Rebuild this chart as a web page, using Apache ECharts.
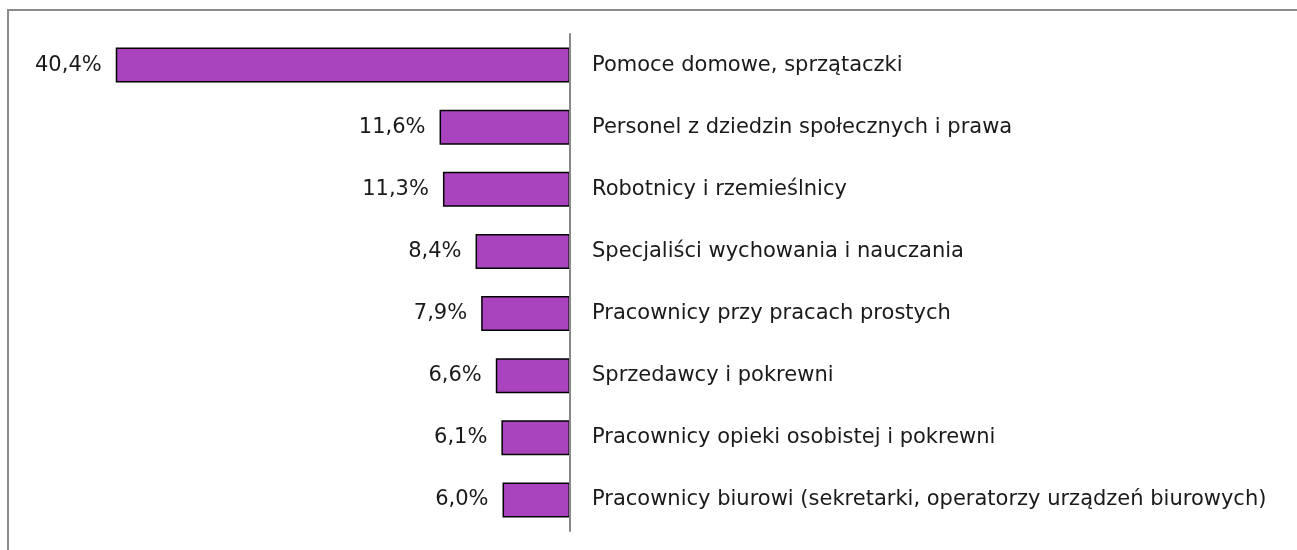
<!DOCTYPE html>
<html>
<head>
<meta charset="utf-8">
<script src="https://cdn.jsdelivr.net/npm/echarts@6/dist/echarts.min.js"></script>
<style>
    html, body { margin: 0; padding: 0; background: #fff; }
    #main { width: 1297px; height: 550px; }
</style>
</head>
<body>
<div id="main"></div>
<script>
let categories = [
    'Pomoce domowe, sprzątaczki',
    'Personel z dziedzin społecznych i prawa',
    'Robotnicy i rzemieślnicy',
    'Specjaliści wychowania i nauczania',
    'Pracownicy przy pracach prostych',
    'Sprzedawcy i pokrewni',
    'Pracownicy opieki osobistej i pokrewni',
    'Pracownicy biurowi (sekretarki, operatorzy urządzeń biurowych)'
];
let values = [40.4, 11.6, 11.3, 8.4, 7.9, 6.6, 6.1, 6.0];

let chart = echarts.init(document.querySelector('#main'));
let font = 'DejaVu Sans';

let option = {
    animation: false,
    // ramka
    graphic: [{
        type: 'polyline',
        shape: { points: [[8, 550], [8, 10], [1297, 10]] },
        style: { stroke: '#8c8c8c', lineWidth: 2, fill: null }
    }],
    grid: {
        left: 64,
        right: 727,
        top: 34,
        bottom: 19
    },
    xAxis: {
        type: 'value',
        inverse: true,
        min: 0,
        max: 45,
        show: false
    },
    yAxis: {
        type: 'category',
        data: categories,
        inverse: true,
        position: 'right',
        z: 5,
        axisLine: { show: true, lineStyle: { color: '#888', width: 2 } },
        axisTick: { show: false },
        axisLabel: {
            margin: 22,
            color: '#1a1a1a',
            fontFamily: font,
            fontSize: 21
        }
    },
    series: [{
        type: 'bar',
        data: values,
        barWidth: 35,
        itemStyle: {
            color: '#a944be',
            borderColor: '#000',
            borderWidth: 1.5
        },
        label: {
            show: true,
            position: 'left',
            distance: 14,
            color: '#1a1a1a',
            fontFamily: font,
            fontSize: 21,
            formatter: function (p) {
                return p.value.toFixed(1).replace('.', ',') + '%';
            }
        }
    }]
};
chart.setOption(option);
</script>
</body>
</html>
